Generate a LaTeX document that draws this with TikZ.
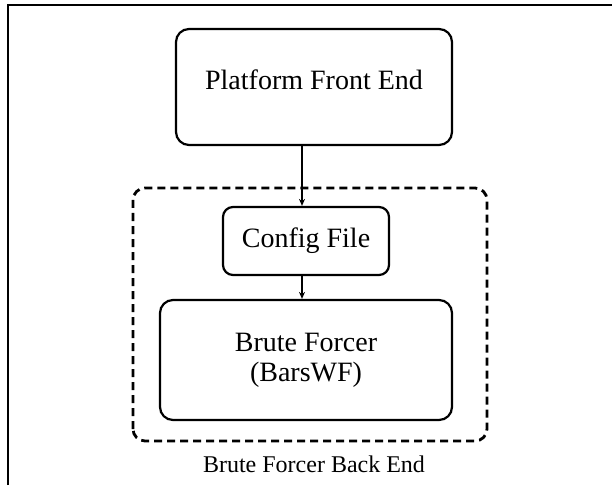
\documentclass[tikz,border=0pt]{standalone}
\usepackage{fontspec}
\setmainfont{Liberation Serif}
\usepackage{tikz}
\usetikzlibrary{arrows.meta}

\begin{document}
\begin{tikzpicture}[x=1pt,y=1pt,
    blockbox/.style={draw,line width=2.2pt,rounded corners=13pt,inner sep=0pt,
      align=center,font=\fontsize{28}{30}\selectfont},
    flowarrow/.style={line width=1.3pt,-{Stealth[length=7pt,width=6pt]}}]
        \useasboundingbox (0,0) rectangle (612,485);
        \draw[line width=2.8pt](8,0)--(8,480)--(612,480);
        \draw[line width=2.8pt,dashed,dash pattern=on 8pt off 5pt,rounded corners=12pt]
          (133,44) rectangle (487,297);
        \node[blockbox,minimum width=276,minimum height=116,text height=20pt,text depth=14pt]
          (front) at (314,398) {Platform Front End};
        \node[blockbox,rounded corners=10pt,minimum width=166,minimum height=68]
          (config) at (306,244) {Config File};
        \node[blockbox,minimum width=292,minimum height=120]
          (brute) at (306,125) {Brute Forcer\\(BarsWF)};
        \node[anchor=base,font=\fontsize{24}{26}\selectfont] (backend) at (314,13)
          {Brute Forcer Back End};
        \coordinate (ax) at (302,0);
        \draw[flowarrow](front.south -| ax)--(config.north -| ax);
        \draw[flowarrow](config.south -| ax)--(brute.north -| ax);
      \end{tikzpicture}
\end{document}
